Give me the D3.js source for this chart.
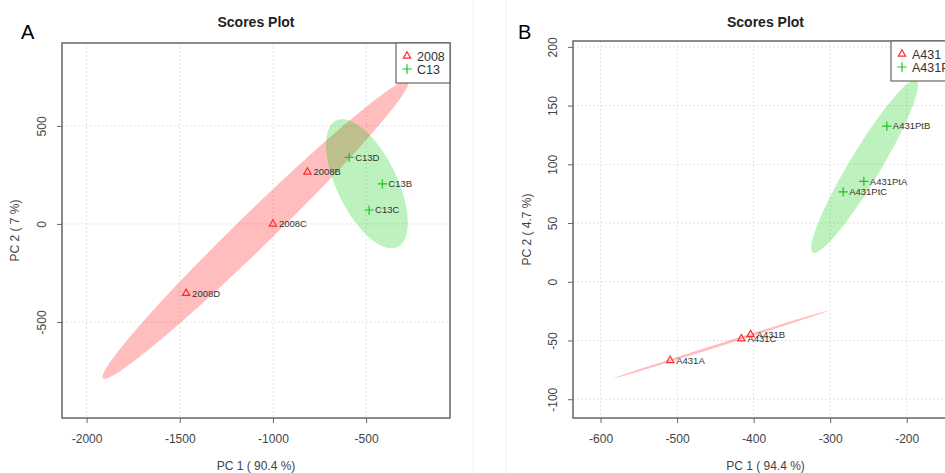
<!DOCTYPE html>
<html>
<head>
<meta charset="utf-8">
<script src="https://cdn.jsdelivr.net/npm/d3@7"></script>
<style>
  body { margin: 0; background: #fff; }
  svg { font-family: "Liberation Sans", Arial, sans-serif; }
</style>
</head>
<body>
<div class="diagram"></div>
<script>
// panel A data
const groupsA = ["2008", "C13"];
const samplesA = ["2008B", "2008C", "2008D", "C13D", "C13B", "C13C"];
const sampleGroupA = ["2008", "2008", "2008", "C13", "C13", "C13"];
const pc1A = [-815, -1000, -1466, -591, -413, -484];
const pc2A = [265, 0, -354, 340, 204, 71];
const xTicksA = [-2000, -1500, -1000, -500];
const yTicksA = [-500, 0, 500];

// panel B data
const groupsB = ["A431", "A431Pt"];
const samplesB = ["A431A", "A431C", "A431B", "A431PtB", "A431PtA", "A431PtC"];
const sampleGroupB = ["A431", "A431", "A431", "A431Pt", "A431Pt", "A431Pt"];
const pc1B = [-509, -416, -404, -226, -256, -283];
const pc2B = [-67, -48.5, -45, 132.5, 85.5, 76.5];
const xTicksB = [-600, -500, -400, -300, -200];
const yTicksB = [-100, -50, 0, 50, 100, 150, 200];

const w = 945,
      h = 473,
      svg = d3.select(".diagram")
      .append("svg")
      .attr("width", w)
      .attr("height", h);

const markColor = ["#ff2b2b", "#1fc41f"];
const fillColor = ["#ff0000", "#00c800"];

// faint edges of the pasted image
[473, 506].forEach(x => svg.append("line")
  .attr("x1", x).attr("x2", x).attr("y1", 0).attr("y2", h)
  .attr("stroke", "#f1f1f1").attr("stroke-width", 1));

// 95% confidence ellipse from a group's points
function ellipse(xs, ys) {
  const n = xs.length,
        mx = d3.mean(xs), my = d3.mean(ys);
  let sxx = 0, syy = 0, sxy = 0;
  for (let i = 0; i < n; i++) {
    sxx += (xs[i] - mx) ** 2;
    syy += (ys[i] - my) ** 2;
    sxy += (xs[i] - mx) * (ys[i] - my);
  }
  sxx /= n - 1; syy /= n - 1; sxy /= n - 1;
  const tr = sxx + syy, det = sxx * syy - sxy * sxy,
        disc = Math.sqrt(Math.max(tr * tr / 4 - det, 0)),
        l1 = tr / 2 + disc, l2 = Math.max(tr / 2 - disc, 0),
        ang = Math.atan2(l1 - sxx, sxy),
        k = Math.sqrt(5.991),
        a = k * Math.sqrt(l1), b = k * Math.sqrt(l2);
  return d3.range(0, 120).map(i => {
    const t = i / 120 * 2 * Math.PI,
          u = a * Math.cos(t), v = b * Math.sin(t);
    return [mx + u * Math.cos(ang) - v * Math.sin(ang),
            my + u * Math.sin(ang) + v * Math.cos(ang)];
  });
}

function panel(p) {
  const g = svg.append("g");
  const xScale = d3.scaleLinear().domain(p.xDomain).range([p.left, p.right]);
  const yScale = d3.scaleLinear().domain(p.yDomain).range([p.bottom, p.top]);

  const clipId = "clip" + p.letter;
  g.append("clipPath").attr("id", clipId)
    .append("rect")
    .attr("x", p.left).attr("y", p.top)
    .attr("width", p.right - p.left).attr("height", p.bottom - p.top);

  // grid
  g.selectAll(".gx").data(p.xTicks).enter().append("line")
    .attr("x1", d => xScale(d)).attr("x2", d => xScale(d))
    .attr("y1", p.top).attr("y2", p.bottom)
    .attr("stroke", "#d9d9d9").attr("stroke-dasharray", "1.5,2.5");
  g.selectAll(".gy").data(p.yTicks).enter().append("line")
    .attr("y1", d => yScale(d)).attr("y2", d => yScale(d))
    .attr("x1", p.left).attr("x2", p.right)
    .attr("stroke", "#d9d9d9").attr("stroke-dasharray", "1.5,2.5");

  // ellipses
  const line = d3.line().x(d => xScale(d[0])).y(d => yScale(d[1])).curve(d3.curveLinearClosed);
  const eg = g.append("g").attr("clip-path", "url(#" + clipId + ")");
  p.groups.forEach((grp, gi) => {
    const idx = p.sampleGroup.map((s, i) => s === grp ? i : -1).filter(i => i >= 0);
    eg.append("path")
      .attr("d", line(ellipse(idx.map(i => p.pc1[i]), idx.map(i => p.pc2[i]))))
      .attr("fill", fillColor[gi])
      .attr("fill-opacity", 0.26);
  });

  // axes
  const xAxis = d3.axisBottom(xScale).tickValues(p.xTicks).tickSize(5).tickSizeOuter(0).tickFormat(d3.format("d"));
  const yAxis = d3.axisLeft(yScale).tickValues(p.yTicks).tickSize(5).tickSizeOuter(0).tickFormat(d3.format("d"));
  const gx = g.append("g").attr("transform", "translate(0," + p.bottom + ")").call(xAxis);
  gx.select(".domain").remove();
  gx.selectAll("line").attr("stroke", "#666");
  gx.selectAll("text").attr("fill", "#444").attr("font-size", 12).attr("y", 16)
    .text(d => d3.format("d")(d).replace("\u2212", "-"));
  const gy = g.append("g").attr("transform", "translate(" + p.left + ",0)").call(yAxis);
  gy.select(".domain").remove();
  gy.selectAll("line").attr("stroke", "#666");
  gy.selectAll("text").attr("fill", "#444").attr("font-size", 12)
    .attr("x", null).attr("dy", null)
    .attr("text-anchor", "middle")
    .attr("transform", "translate(-16,0) rotate(-90)")
    .text(d => d3.format("d")(d).replace("\u2212", "-"));

  // box
  g.append("rect")
    .attr("x", p.left).attr("y", p.top)
    .attr("width", p.right - p.left).attr("height", p.bottom - p.top)
    .attr("fill", "none").attr("stroke", "#666").attr("stroke-width", 1.5);

  // points
  const tri = d3.symbol(d3.symbolTriangle2, 38);
  const plus = d3.symbol(d3.symbolPlus, 30);
  p.samples.forEach((s, i) => {
    const gi = p.groups.indexOf(p.sampleGroup[i]),
          x = xScale(p.pc1[i]), y = yScale(p.pc2[i]);
    g.append("path")
      .attr("d", gi === 0 ? tri() : plus())
      .attr("transform", "translate(" + x + "," + y + ")")
      .attr("fill", "none").attr("stroke", markColor[gi]).attr("stroke-width", 1.2);
    g.append("text").attr("x", x + 6).attr("y", y).attr("dy", "0.35em")
      .attr("font-size", 9.5).attr("fill", "#333").text(s);
  });

  // legend
  const lg = g.append("g");
  lg.append("rect")
    .attr("x", p.legendX).attr("y", p.top)
    .attr("width", p.right - p.legendX).attr("height", 40)
    .attr("fill", "#fff").attr("stroke", "#666").attr("stroke-width", 1.2);
  p.groups.forEach((grp, gi) => {
    const ly = p.top + 13 + gi * 13;
    lg.append("path")
      .attr("d", gi === 0 ? tri() : plus())
      .attr("transform", "translate(" + (p.legendX + 11) + "," + ly + ")")
      .attr("fill", "none").attr("stroke", markColor[gi]).attr("stroke-width", 1.2);
    lg.append("text").attr("x", p.legendX + 21).attr("y", ly).attr("dy", "0.36em")
      .attr("font-size", 12.5).attr("fill", "#333").text(grp);
  });

  const cx = (p.left + p.right) / 2, cy = (p.top + p.bottom) / 2;
  g.append("text").attr("x", cx).attr("y", 27).attr("text-anchor", "middle")
    .attr("font-size", 14).attr("font-weight", "bold").attr("fill", "#222").text("Scores Plot");
  g.append("text").attr("x", cx).attr("y", 470).attr("text-anchor", "middle")
    .attr("font-size", 12).attr("fill", "#444").text(p.xTitle);
  g.append("text").attr("transform", "translate(" + p.yTitleX + "," + cy + ") rotate(-90)")
    .attr("text-anchor", "middle").attr("dy", "0.35em")
    .attr("font-size", 12).attr("fill", "#444").text(p.yTitle);
  g.append("text").attr("x", p.letterX).attr("y", 39)
    .attr("font-size", 20).attr("fill", "#000").text(p.letter);
}

panel({
  letter: "A", letterX: 21,
  left: 62, right: 450, top: 43, bottom: 418,
  xDomain: [-2132, -50], yDomain: [-990, 923],
  xTicks: xTicksA, yTicks: yTicksA,
  groups: groupsA, samples: samplesA, sampleGroup: sampleGroupA, pc1: pc1A, pc2: pc2A,
  legendX: 396, xTitle: "PC 1 ( 90.4 %)", yTitle: "PC 2 ( 7 %)", yTitleX: 15
});

panel({
  letter: "B", letterX: 518,
  left: 573, right: 958, top: 41, bottom: 418,
  xDomain: [-636, -133], yDomain: [-116, 205],
  xTicks: xTicksB, yTicks: yTicksB,
  groups: groupsB, samples: samplesB, sampleGroup: sampleGroupB, pc1: pc1B, pc2: pc2B,
  legendX: 891, xTitle: "PC 1 ( 94.4 %)", yTitle: "PC 2 ( 4.7 %)", yTitleX: 527
});
</script>
</body>
</html>
